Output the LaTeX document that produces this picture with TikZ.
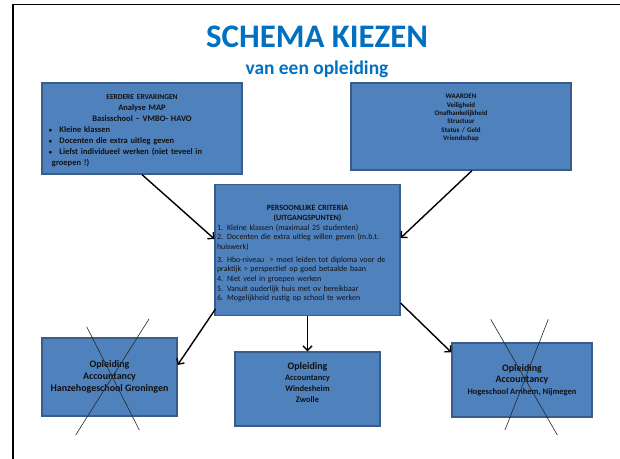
\documentclass[tikz,border=0pt]{standalone}
\usepackage{fontspec}
\setmainfont{Carlito}
\usepackage{xcolor}
\usepackage{tikz}
\usetikzlibrary{calc,arrows.meta}
\definecolor{titleblue}{HTML}{0070C0}
\definecolor{boxfill}{HTML}{4F81BD}
\definecolor{boxline}{HTML}{385D8A}
\definecolor{ink}{HTML}{111111}
\tikzset{
  box/.style={draw=boxline, fill=boxfill, line width=1.2bp, inner sep=2bp, text=ink},
  arrowline/.style={draw=black, line width=1.4bp, -{Straight Barb[length=4.5bp,width=9bp]}},
  strike/.style={draw=black!85, line width=0.6bp},
}
\newcommand{\bitem}{\makebox[14.5bp][l]{\hspace{4bp}{\fontsize{6.5}{6}\selectfont\textbullet}}}

\begin{document}
\begin{tikzpicture}[x=1bp,y=-1bp]
  \useasboundingbox (0,0) rectangle (620,459);

  % slide frame
  \draw[line width=1.8bp] (13,459) -- (13,4.5) -- (620,4.5);

  \node[text=titleblue, font=\fontsize{33}{36}\selectfont\bfseries] (title) at (317,37) {SCHEMA KIEZEN};
  \node[text=titleblue, font=\fontsize{19.5}{22}\selectfont\bfseries] (subtitle) at (317,69.5) {van een opleiding};

  % top row
  \node[box, minimum width=200bp, minimum height=91bp, text width=194bp,
        font=\fontsize{8.5}{11}\selectfont\bfseries] (ervaringen) at (142,128.5)
    {{\centering{\fontsize{7.5}{11}\selectfont\rule{0pt}{9bp}EERDERE ERVARINGEN}\\ Analyse MAP\\ Basisschool – VMBO- HAVO\par}
     \raggedright
     \bitem Kleine klassen\\
     \bitem Docenten die extra uitleg geven\\
     \bitem Liefst individueel werken (niet teveel in\\
     \hspace*{7bp}groepen !)};
  \node[box, minimum width=220bp, minimum height=87bp, text width=214bp,
        font=\fontsize{7}{8.4}\selectfont\bfseries] (waarden) at (461,126.5)
    {\centering WAARDEN\\ Veiligheid\\ Onafhankelijkheid\\ Structuur\\ Status / Geld\\ Vriendschap\par\vspace*{17bp}};

  % middle
  \node[box, minimum width=185bp, minimum height=131bp, text width=181bp,
        font=\fontsize{8}{9.7}\selectfont] (criteria) at (307.5,250)
    {\centering\bfseries\rule{0pt}{13bp}PERSOONLIJKE CRITERIA\\ (UITGANGSPUNTEN)\\
     \raggedright\mdseries
     1. Kleine klassen (maximaal 25 studenten)\\
     2. Docenten die extra uitleg willen geven (m.b.t.\\
     huiswerk)\\[3bp]
     3. Hbo-niveau \ > moet leiden tot diploma voor de\\
     praktijk > perspectief op goed betaalde baan\\
     4. Niet veel in groepen werken\\
     5. Vanuit ouderlijk huis met ov bereikbaar\\
     6. Mogelijkheid rustig op school te werken};

  % bottom row
  \node[box, minimum width=135bp, minimum height=78bp, align=center,
        font=\fontsize{10}{12}\selectfont\bfseries] (hanze) at (109.5,377)
    {Opleiding\\ Accountancy\\ Hanzehogeschool Groningen};
  \node[box, minimum width=145bp, minimum height=74bp, align=center,
        font=\fontsize{8.5}{11}\selectfont\bfseries] (windesheim) at (307.5,389)
    {{\fontsize{10}{11}\selectfont Opleiding}\\ Accountancy\\ Windesheim\\ Zwolle\\[2bp]};
  \node[box, minimum width=140bp, minimum height=74bp, align=center,
        font=\fontsize{10}{11.5}\selectfont\bfseries] (arnhem) at (522,380)
    {Opleiding\\ Accountancy\\ {\fontsize{8.5}{11}\selectfont Hogeschool Arnhem, Nijmegen}};

  % arrows
  \draw[arrowline] (ervaringen.south) -- ([yshift=11bp]criteria.west);
  \draw[arrowline] ([xshift=11bp]waarden.south) -- ([yshift=12bp]criteria.east);
  \draw[arrowline] ([xshift=1bp,yshift=7bp]criteria.south west) -- ([yshift=12bp]hanze.east);
  \draw[arrowline] (criteria.south) -- (windesheim.north);
  \draw[arrowline] ([yshift=13bp]criteria.south east) -- ([yshift=-10bp]arnhem.north west);

  % crossed out choices
  \draw[strike] (86.7,326.7) -- (139.3,430);
  \draw[strike] (149,319) -- (75.7,435);
  \draw[strike] (490.7,319.3) -- (557.3,435);
  \draw[strike] (548.3,319.3) -- (505,430);
\end{tikzpicture}
\end{document}
